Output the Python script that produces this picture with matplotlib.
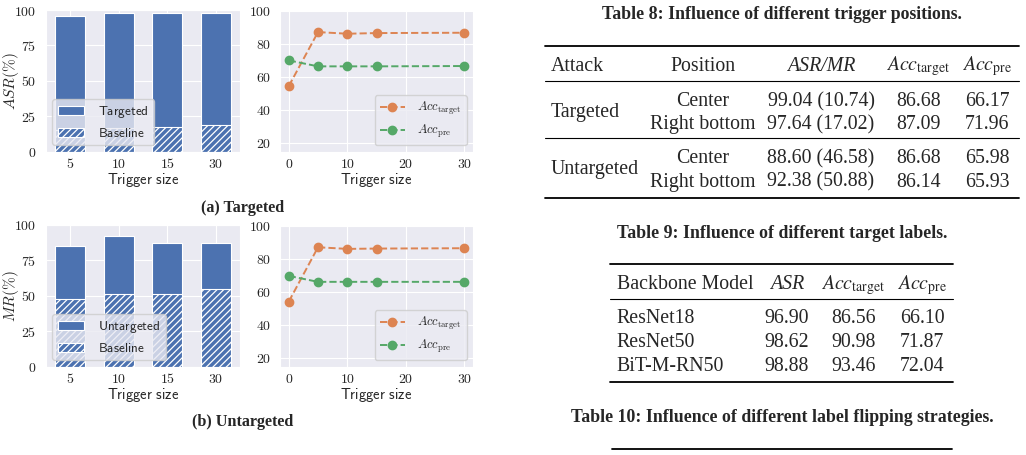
import matplotlib
matplotlib.use('Agg')
import matplotlib.pyplot as plt
import seaborn as sns
from matplotlib.lines import Line2D

# bar panels: trigger size vs ASR / MR
size_labels = ['5', '10', '15', '30']
asr_targeted = [95.7, 97.6, 98.1, 97.9]
asr_baseline = [15.5, 16.5, 17.4, 19.0]
mr_untargeted = [85.2, 91.9, 87.4, 87.4]
mr_baseline = [47.6, 51.0, 51.2, 54.8]

# line panels: trigger size vs accuracy
line_sizes = [0, 5, 10, 15, 30]
acc_target_t = [54.3, 87.1, 86.1, 86.5, 86.7]
acc_pre_t = [69.9, 66.3, 66.3, 66.3, 66.5]
acc_target_u = [54.0, 87.0, 86.0, 86.2, 86.4]
acc_pre_u = [69.6, 66.0, 66.0, 66.0, 66.0]

# tables
t8_header = ['Attack', 'Position', 'ASR/MR', r'$\mathit{Acc}_{\mathrm{target}}$', r'$\mathit{Acc}_{\mathrm{pre}}$']
t8_attacks = ['Targeted', 'Untargeted']
t8_rows = [['Center', '99.04 (10.74)', '86.68', '66.17'],
           ['Right bottom', '97.64 (17.02)', '87.09', '71.96'],
           ['Center', '88.60 (46.58)', '86.68', '65.98'],
           ['Right bottom', '92.38 (50.88)', '86.14', '65.93']]
t9_header = ['Backbone Model', 'ASR', r'$\mathit{Acc}_{\mathrm{target}}$', r'$\mathit{Acc}_{\mathrm{pre}}$']
t9_rows = [['ResNet18', '96.90', '86.56', '66.10'],
           ['ResNet50', '98.62', '90.98', '71.87'],
           ['BiT-M-RN50', '98.88', '93.46', '72.04']]

sns.set_style('darkgrid')
plt.rcParams['mathtext.fontset'] = 'cm'
plt.rcParams['hatch.linewidth'] = 0.9

W, H = 1026, 455
fig = plt.figure(figsize=(W / 100, H / 100), dpi=100)

blue = '#4C72B0'
orange = '#DD8452'
green = '#55A868'


def px_axes(x0, y0, x1, y1):
    return fig.add_axes([x0 / W, 1 - y1 / H, (x1 - x0) / W, (y1 - y0) / H])


def sf(s):
    return r'$\mathsf{' + s.replace(' ', r'\ ') + '}$'


def style_ticks(ax):
    ax.tick_params(labelsize=10)
    ax.tick_params(axis='x', pad=0)
    ax.tick_params(axis='y', pad=3)
    ax.set_xlabel(sf('Trigger size'), fontsize=10.5, labelpad=0)


def bar_panel(ax, top, base, top_label, ylabel):
    x = range(len(size_labels))
    ax.bar(x, top, 0.62, color=blue, edgecolor='white', linewidth=0.8, label=sf(top_label))
    ax.bar(x, base, 0.62, color=blue, edgecolor='white', linewidth=0.8, hatch='/////', label=sf('Baseline'))
    ax.set_xlim(-0.5, 3.5)
    ax.set_ylim(0, 100)
    ax.set_xticks(list(x))
    ax.set_xticklabels(['$' + s + '$' for s in size_labels])
    ax.set_yticks([0, 25, 50, 75, 100])
    ax.set_yticklabels(['$%d$' % v for v in [0, 25, 50, 75, 100]])
    style_ticks(ax)
    ax.set_ylabel(ylabel, fontsize=11)
    ax.yaxis.set_label_coords(-0.125, 0.5)
    ax.legend(loc='lower left', fontsize=9.5, handletextpad=1.1)


def line_panel(ax, tgt, pre):
    ax.plot(line_sizes, tgt, '--o', color=orange, lw=1.4, ms=6, label=r'$Acc_{\mathrm{target}}$')
    ax.plot(line_sizes, pre, '--o', color=green, lw=1.4, ms=6, label=r'$Acc_{\mathrm{pre}}$')
    ax.set_xlim(-1.5, 31.5)
    ax.set_ylim(14.5, 100.5)
    ax.set_xticks([0, 10, 20, 30])
    ax.set_xticklabels(['$%d$' % v for v in [0, 10, 20, 30]])
    ax.set_yticks([20, 40, 60, 80, 100])
    ax.set_yticklabels(['$%d$' % v for v in [20, 40, 60, 80, 100]])
    style_ticks(ax)
    ax.legend(loc='lower right', fontsize=9, handletextpad=1.0)


ax1 = px_axes(45.7, 10, 240, 151.7)
bar_panel(ax1, asr_targeted, asr_baseline, 'Targeted', r'$ASR(\%)$')
ax2 = px_axes(280, 10, 473, 151.7)
line_panel(ax2, acc_target_t, acc_pre_t)
ax3 = px_axes(45.7, 225, 240, 366.7)
bar_panel(ax3, mr_untargeted, mr_baseline, 'Untargeted', r'$MR(\%)$')
ax4 = px_axes(280, 225, 473, 366.7)
line_panel(ax4, acc_target_u, acc_pre_u)

serif = 'Liberation Serif'


def ftext(x, y, s, ha='center', size=14.3, **kw):
    fig.text(x / W, 1 - y / H, s, ha=ha, va='baseline', fontsize=size,
             family=serif, math_fontfamily='stix', **kw)


def rule(x0, x1, y, lw):
    fig.add_artist(Line2D([x0 / W, x1 / W], [1 - y / H, 1 - y / H],
                          transform=fig.transFigure, color='black', lw=lw))


# subcaptions
ftext(243, 211.7, '(a) Targeted', size=11.6, weight='bold')
ftext(243, 425.7, '(b) Untargeted', size=11.6, weight='bold')

# Table 8
ftext(782, 19, 'Table 8: Influence of different trigger positions.', size=12.8, weight='bold')
rule(545, 1019, 45.7, 1.3)
rule(545, 1019, 81, 0.8)
rule(545, 1019, 138.3, 0.8)
rule(545, 1019, 198.3, 1.3)
t8_cols = [702.7, 821, 918.5, 987.5]
ftext(550.7, 70.7, t8_header[0], ha='left')
for cx, h in zip(t8_cols, t8_header[1:]):
    ftext(cx, 70.7, h, style='italic' if h == 'ASR/MR' else 'normal')
ftext(550.7, 116.7, t8_attacks[0], ha='left')
ftext(550.7, 174.3, t8_attacks[1], ha='left')
for yb, row in zip([106, 129.3, 163.3, 186.7], t8_rows):
    for cx, v in zip(t8_cols, row):
        ftext(cx, yb, v)

# Table 9
ftext(782, 237.7, 'Table 9: Influence of different target labels.', size=12.8, weight='bold')
rule(610, 953.3, 264.3, 1.3)
rule(610, 953.3, 299.3, 0.8)
rule(610, 953.3, 382.3, 1.3)
t9_cols = [787, 853.5, 922]
ftext(616.7, 289, t9_header[0], ha='left')
for cx, h in zip(t9_cols, t9_header[1:]):
    ftext(cx, 289, h, style='italic' if h == 'ASR' else 'normal')
for yb, row in zip([323.3, 347.3, 371], t9_rows):
    ftext(616.7, yb, row[0], ha='left')
    for cx, v in zip(t9_cols, row[1:]):
        ftext(cx, yb, v)

# Table 10 (only caption and top rule visible)
ftext(782, 421.7, 'Table 10: Influence of different label flipping strategies.', size=12.8, weight='bold')
rule(611.7, 952.3, 449, 1.3)

fig.savefig('out.png', dpi=100)
